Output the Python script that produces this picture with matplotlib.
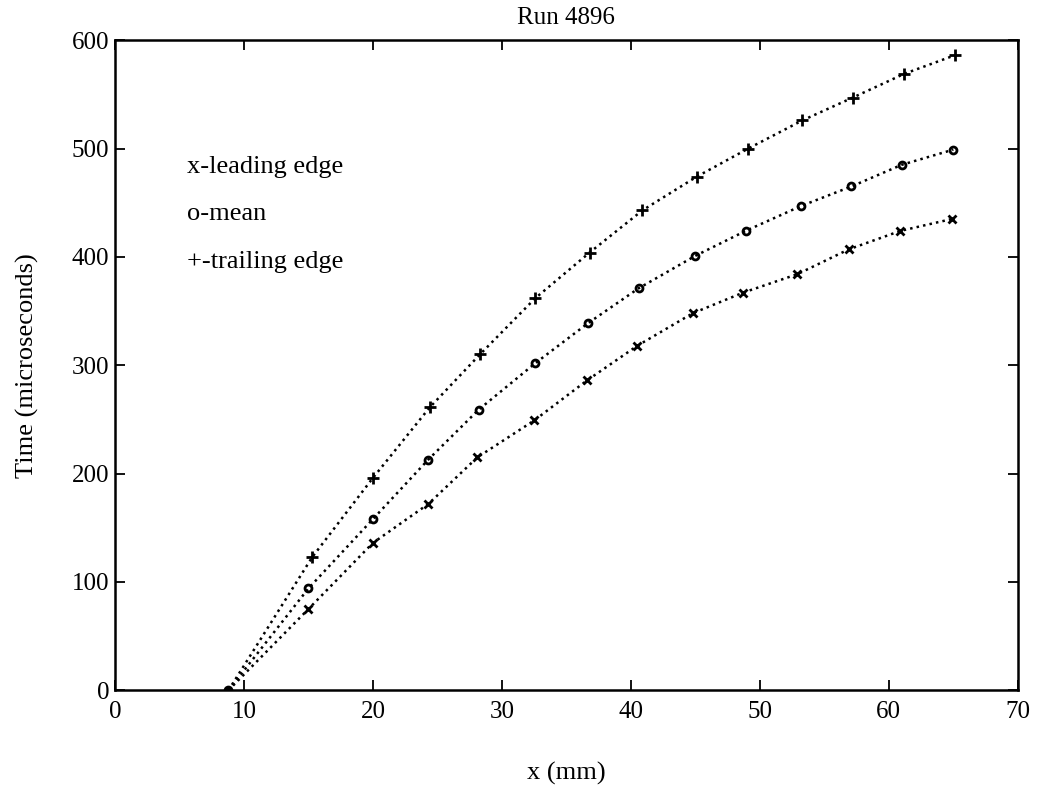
import numpy as np
import matplotlib.pyplot as plt

plt.rcParams['font.family'] = ['Liberation Serif', 'DejaVu Serif']

# Start point shared by all three curves
x0 = 8.8
y0 = 0

# Leading edge (x markers)
x_lead = [15.0, 20.0, 24.3, 28.1, 32.5, 36.6, 40.5, 44.8, 48.7, 52.9, 56.9, 60.9, 64.9]
t_lead = [75, 136, 172, 215, 249, 286, 318, 348, 367, 384, 407, 424, 435]

# Mean (o markers)
x_mean = [15.0, 20.0, 24.3, 28.2, 32.6, 36.7, 40.6, 45.0, 48.9, 53.2, 57.1, 61.0, 65.0]
t_mean = [94, 158, 213, 259, 302, 339, 371, 401, 424, 447, 465, 485, 499]

# Trailing edge (+ markers)
x_trail = [15.3, 20.0, 24.4, 28.3, 32.6, 36.8, 40.9, 45.1, 49.1, 53.3, 57.2, 61.2, 65.1]
t_trail = [123, 196, 261, 310, 362, 404, 443, 474, 500, 526, 547, 569, 586]

fig = plt.figure(figsize=(10.45, 7.88), dpi=100)
ax = fig.add_axes([0.110, 0.124, 0.864, 0.825])

for xs, ts, mk, ms in [(x_lead, t_lead, 'x', 6),
                       (x_mean, t_mean, 'o', 5),
                       (x_trail, t_trail, '+', 8)]:
    ax.plot([x0] + xs, [y0] + ts, ':', color='black', lw=1.8)
    ax.plot(xs, ts, mk, color='black', ms=ms, mew=2, mfc='none')
ax.plot(x0, y0, 'o', color='black', ms=6)

ax.text(5.6, 483, 'x-leading edge', fontsize=19, va='center')
ax.text(5.6, 440, 'o-mean', fontsize=19, va='center')
ax.text(5.6, 395, '+-trailing edge', fontsize=19, va='center')

ax.set_xlim(0, 70)
ax.set_ylim(0, 600)
ax.set_xticks(np.arange(0, 71, 10))
ax.set_yticks(np.arange(0, 601, 100))
ax.tick_params(direction='in', top=True, right=True, labelsize=18, length=7, width=1.3)
ax.tick_params(axis='x', pad=8)
ax.tick_params(axis='y', pad=4)
for s in ax.spines.values():
    s.set_linewidth(1.8)

ax.set_title('Run 4896', fontsize=18, pad=12)
ax.set_xlabel('x (mm)', fontsize=19, labelpad=28)
ax.set_ylabel('Time (microseconds)', fontsize=19, labelpad=24)

fig.savefig('out.png', dpi=100)
